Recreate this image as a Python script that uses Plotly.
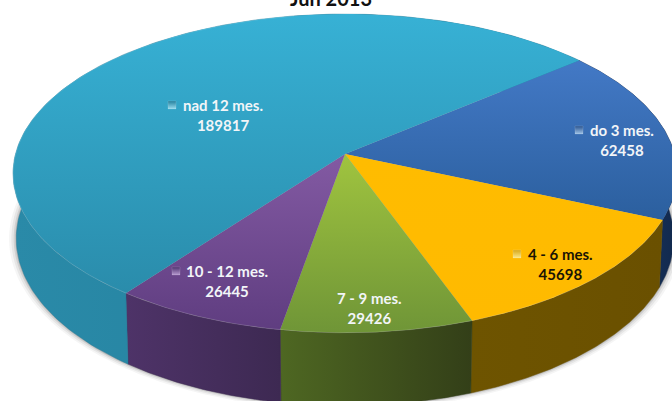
import numpy as np
import plotly.graph_objects as go

# --- data -------------------------------------------------------------
categories = ["do 3 mes.", "4 - 6 mes.", "7 - 9 mes.", "10 - 12 mes.", "nad 12 mes."]
values = [62458, 45698, 29426, 26445, 189817]
title_text = "Jun 2013"

# --- style ------------------------------------------------------------
face_grad = [("#2B5F9E", "#4379C6"), ("#FFBA00", "#FFBC00"), ("#6F9537", "#A0C43F"),
             ("#5F3D80", "#835AA3"), ("#2A8CAB", "#37B1D5")]
wall_grad = [("#1E4272", "#12294D"), ("#6E5400", "#6A5000"), ("#4E6722", "#333F18"),
             ("#4E3368", "#3D2952"), ("#2A8AA8", "#1F7B98")]
key_col = ["#2A5490", "#D8A818", None, "#4E3270", "#22809E"]
key_light = ["#A0C4E8", "#FBE88A", None, "#B79AD0", "#9ADCEF"]
text_col = ["#F2F5F8", "#1A1405", "#F2F5F8", "#F2F5F8", "#F2F5F8"]
label_xy = [(622, 140), (560, 264), (369, 308), (227, 281), (223, 115)]
key_xy = [(579, 130), (517, 254), None, (176, 271), (172, 105)]
START_DEG = 50.0
CX, CY, A, B, K = 345.0, 154.0, 329.5, 157.0, 0.122
DEPTH, BOTTOM_SX, BOTTOM_SY = 64.0, 0.99, 1.05


def project(theta_deg, bottom=False, grow=1.0):
    t = np.radians(theta_deg)
    u, v = np.sin(t), -np.cos(t)
    d = 1 - K * v
    if bottom:
        return CX + grow * BOTTOM_SX * A * u / d, CY + DEPTH + grow * BOTTOM_SY * B * v / d
    return CX + A * u / d, CY + B * v / d


fig = go.Figure()

# soft shadow under the rim
full = np.linspace(0, 360, 361)
for grow, alpha in [(1.022, 0.05), (1.015, 0.08), (1.008, 0.12), (1.003, 0.18)]:
    x, y = project(full, bottom=True, grow=grow)
    fig.add_trace(go.Scatter(x=x, y=y, mode="none", fill="toself",
                             fillcolor=f"rgba(60,60,60,{alpha})", hoverinfo="skip"))

total = sum(values)
edges = START_DEG + 360.0 * np.concatenate([[0], np.cumsum(values)]) / total

# side walls
for i in range(len(values)):
    th = np.linspace(edges[i], edges[i + 1], 160)
    xt, yt = project(th)
    xb, yb = project(th[::-1], bottom=True)
    fig.add_trace(go.Scatter(
        x=np.r_[xt, xb, xt[0]], y=np.r_[yt, yb, yt[0]], mode="lines",
        line=dict(width=0.5, color=wall_grad[i][1]), fill="toself",
        fillgradient=dict(type="horizontal",
                          colorscale=[[0, wall_grad[i][0]], [1, wall_grad[i][1]]]),
        hoverinfo="skip"))

# top faces
for i in range(len(values)):
    th = np.linspace(edges[i], edges[i + 1], 160)
    xt, yt = project(th)
    fig.add_trace(go.Scatter(
        x=np.r_[CX, xt, CX], y=np.r_[CY, yt, CY], mode="lines",
        line=dict(width=0.5, color="rgba(0,0,0,0)"), fill="toself",
        fillgradient=dict(type="vertical",
                          colorscale=[[0, face_grad[i][0]], [1, face_grad[i][1]]]),
        hoverinfo="skip"))

# bevel highlight on the front rim
th = np.linspace(edges[1], edges[5] - 60, 300)
xt, yt = project(th)
fig.add_trace(go.Scatter(x=xt, y=yt, mode="lines", hoverinfo="skip",
                         line=dict(width=1, color="rgba(255,255,255,0.15)")))

# legend keys
for xy, c, light in zip(key_xy, key_col, key_light):
    if xy:
        fig.add_trace(go.Scatter(
            x=[xy[0]], y=[xy[1]], mode="markers", hoverinfo="skip",
            marker=dict(symbol="square", size=8, color=c,
                        gradient=dict(type="vertical", color=light),
                        line=dict(width=0.5, color="rgba(255,255,255,0.25)"))))

annotations = []
for cat, val, xy, c in zip(categories, values, label_xy, text_col):
    annotations.append(dict(
        x=xy[0], y=xy[1], xref="x", yref="y", showarrow=False, align="center",
        text=f"<b>{cat}</b><br><b>{val}</b>",
        font=dict(family="Lato", size=15, color=c)))

fig.update_layout(
    width=672, height=401, autosize=False, showlegend=False,
    margin=dict(l=0, r=0, t=0, b=0),
    paper_bgcolor="white", plot_bgcolor="white",
    title=dict(text=f"<b>{title_text}</b>", x=0.4925, xanchor="center",
               y=0.985, yref="container", yanchor="bottom",
               font=dict(family="Lato", size=20, color="#111111")),
    xaxis=dict(range=[0, 672], visible=False, fixedrange=True),
    yaxis=dict(range=[401, 0], visible=False, fixedrange=True),
    annotations=annotations,
)
fig.write_html("out.html", config=dict(displayModeBar=False),
               post_script="document.body.style.margin='0';document.documentElement.style.overflow='hidden';")
